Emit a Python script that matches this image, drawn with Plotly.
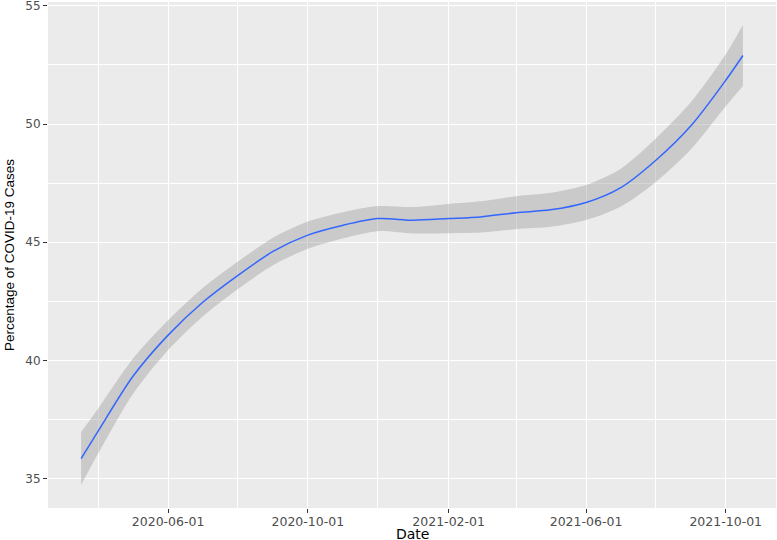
import plotly.graph_objects as go
import pandas as pd

# Data (smoothed fit with confidence band)
dates = ["2020-03-17", "2020-04-01", "2020-05-01", "2020-06-01", "2020-07-01",
         "2020-08-01", "2020-09-01", "2020-10-01", "2020-11-01", "2020-12-01",
         "2021-01-01", "2021-02-01", "2021-03-01", "2021-04-01", "2021-05-01",
         "2021-06-01", "2021-07-01", "2021-08-01", "2021-09-01", "2021-10-01",
         "2021-10-16"]
fit = [35.85, 37.02, 39.31, 41.07, 42.45, 43.60, 44.62, 45.30, 45.72, 46.00,
       45.93, 46.00, 46.07, 46.25, 46.37, 46.68, 47.30, 48.47, 49.95, 51.85,
       52.90]
lower = [34.73, 36.07, 38.56, 40.44, 41.85, 43.02, 44.04, 44.72, 45.17, 45.47,
         45.37, 45.38, 45.41, 45.55, 45.65, 45.94, 46.50, 47.55, 48.95, 50.75,
         51.61]
upper = [36.97, 37.97, 40.06, 41.70, 43.05, 44.18, 45.20, 45.88, 46.27, 46.53,
         46.49, 46.62, 46.73, 46.95, 47.09, 47.42, 48.10, 49.39, 50.95, 52.95,
         54.19]

x_tick_vals = ["2020-06-01", "2020-10-01", "2021-02-01", "2021-06-01", "2021-10-01"]
y_tick_vals = [35, 40, 45, 50, 55]
x_title = "Date"
y_title = "Percentage of COVID-19 Cases"

# ggplot-like 5% expansion
d = pd.to_datetime(dates)
span = d.max() - d.min()
x_range = [d.min() - span * 0.05, d.max() + span * 0.05]
ymin, ymax = min(lower), max(upper)
yr = ymax - ymin
y_range = [ymin - 0.05 * yr, ymax + 0.05 * yr]

fig = go.Figure()
fig.add_trace(go.Scatter(x=dates, y=upper, mode="lines",
                         line=dict(width=0, shape="spline", smoothing=0.8),
                         hoverinfo="skip", showlegend=False))
fig.add_trace(go.Scatter(x=dates, y=lower, mode="lines", fill="tonexty",
                         fillcolor="rgba(153,153,153,0.4)",
                         line=dict(width=0, shape="spline", smoothing=0.8),
                         hoverinfo="skip", showlegend=False))
fig.add_trace(go.Scatter(x=dates, y=fit, mode="lines",
                         line=dict(color="#3366FF", width=1.5, shape="spline", smoothing=0.8),
                         showlegend=False))

fig.update_layout(
    width=777, height=540,
    margin=dict(l=48, r=1, t=2, b=32),
    paper_bgcolor="white",
    plot_bgcolor="#EBEBEB",
    showlegend=False,
    annotations=[
        dict(text=y_title, xref="paper", yref="paper", x=0, y=0.5,
             xanchor="center", yanchor="middle", xshift=-39, textangle=-90,
             showarrow=False,
             font=dict(family="Liberation Sans Narrow, Liberation Sans, Arial",
                       size=13.5, color="black")),
        dict(text=x_title, xref="paper", yref="paper", x=0.5, y=0,
             xanchor="center", yanchor="middle", yshift=-25.5,
             showarrow=False,
             font=dict(family="DejaVu Sans", size=14, color="black")),
    ],
)
fig.update_xaxes(
    range=x_range, automargin=False,
    tickmode="array", tickvals=x_tick_vals, ticktext=x_tick_vals,
    showgrid=True, gridcolor="white", gridwidth=1.1,
    minor=dict(showgrid=True, gridcolor="white", gridwidth=0.5, dtick="M2",
               tick0="2020-02-01", ticks=""),
    ticks="outside", ticklen=4, tickcolor="#333333", tickwidth=1,
    ticklabelstandoff=-2, ticklabeloverflow="allow",
    tickfont=dict(family="DejaVu Sans", size=12.5, color="#4D4D4D"),
    showline=False, zeroline=False,
)
fig.update_yaxes(
    range=y_range, automargin=False,
    tickmode="array", tickvals=y_tick_vals,
    showgrid=True, gridcolor="white", gridwidth=1.1,
    minor=dict(showgrid=True, gridcolor="white", gridwidth=0.5, dtick=2.5,
               tick0=0, ticks=""),
    ticks="outside", ticklen=4, tickcolor="#333333", tickwidth=1,
    ticklabeloverflow="allow",
    tickfont=dict(family="DejaVu Sans", size=12, color="#4D4D4D"),
    showline=False, zeroline=False,
)

fig.write_html("out.html", config={"displayModeBar": False},
               post_script="document.body.style.margin='0';document.body.style.overflow='hidden';")
